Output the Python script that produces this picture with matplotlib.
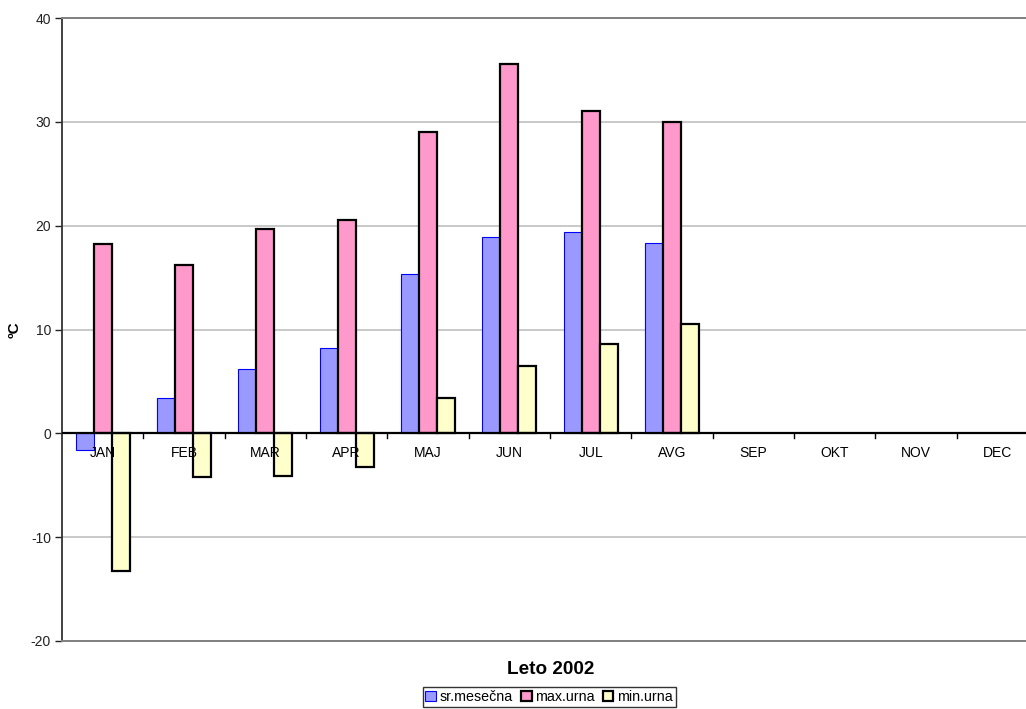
import numpy as np
import matplotlib
matplotlib.use("Agg")
import matplotlib.pyplot as plt

plt.rcParams['font.family'] = ['Liberation Sans', 'DejaVu Sans']
plt.rcParams['axes.unicode_minus'] = False

# monthly data, Leto 2002
months = ["JAN", "FEB", "MAR", "APR", "MAJ", "JUN", "JUL", "AVG",
          "SEP", "OKT", "NOV", "DEC"]
sr_mesecna = [-1.6, 3.4, 6.2, 8.2, 15.3, 18.9, 19.4, 18.3,
              np.nan, np.nan, np.nan, np.nan]
max_urna = [18.2, 16.2, 19.7, 20.5, 29.0, 35.6, 31.0, 30.0,
            np.nan, np.nan, np.nan, np.nan]
min_urna = [-13.3, -4.2, -4.1, -3.2, 3.4, 6.5, 8.6, 10.5,
            np.nan, np.nan, np.nan, np.nan]
yticks = [-20, -10, 0, 10, 20, 30, 40]

fig = plt.figure(figsize=(10.26, 7.09), dpi=100)
# plot area runs a bit past the right edge of the picture
ax = fig.add_axes([62/1026, 68/709, 976/1026, 623/709])

x = np.arange(len(months))
w = 1/4.5
ax.bar(x - w, sr_mesecna, w, color="#9999FF", edgecolor="#0000FF",
       linewidth=0.8, label="sr.mesečna", zorder=3)
ax.bar(x, max_urna, w, color="#FF99CC", edgecolor="black",
       linewidth=1.6, label="max.urna", zorder=3)
ax.bar(x + w, min_urna, w, color="#FFFFCC", edgecolor="black",
       linewidth=1.6, label="min.urna", zorder=3)

ax.set_xlim(-0.5, len(months) - 0.5)
ax.set_ylim(-20, 40)
ax.set_yticks(yticks)
ax.tick_params(axis='y', direction='out', length=5, width=1,
               labelsize=10, pad=3, colors='#222222')
ax.grid(axis='y', color='#c0c0c0', linewidth=1.2, zorder=0)

for s in ['top', 'right', 'bottom']:
    ax.spines[s].set_color('#808080')
    ax.spines[s].set_linewidth(1.4)
ax.spines['left'].set_color('#333333')
ax.spines['left'].set_linewidth(1.3)

# category axis sits at zero
ax.set_xticks([])
ax.axhline(0, color='black', linewidth=1.6, zorder=4)
for b in np.arange(0.5, len(months) - 0.5):
    ax.plot([b, b], [0, -0.45], color='black', linewidth=1, zorder=4)
for i, m in enumerate(months):
    ax.text(i, -1.25, m, ha='center', va='top', fontsize=10, zorder=5)

ax.set_ylabel("ºC", fontsize=11, fontweight='bold')
ax.yaxis.set_label_coords(-40/976, (641 - 330)/623)

fig.text(551/1026, 1 - 669/709, "Leto 2002", ha='center', va='center',
         fontsize=13.7, fontweight='bold')

leg = fig.legend(loc='center', bbox_to_anchor=(549/1026, 1 - 697/709),
                 ncol=3, fontsize=10.3, frameon=True, fancybox=False,
                 edgecolor='black', handlelength=0.75, handleheight=0.75,
                 handletextpad=0.25, columnspacing=0.55, borderpad=0.2)
leg.get_frame().set_linewidth(1)

fig.savefig("out.png", dpi=100)
